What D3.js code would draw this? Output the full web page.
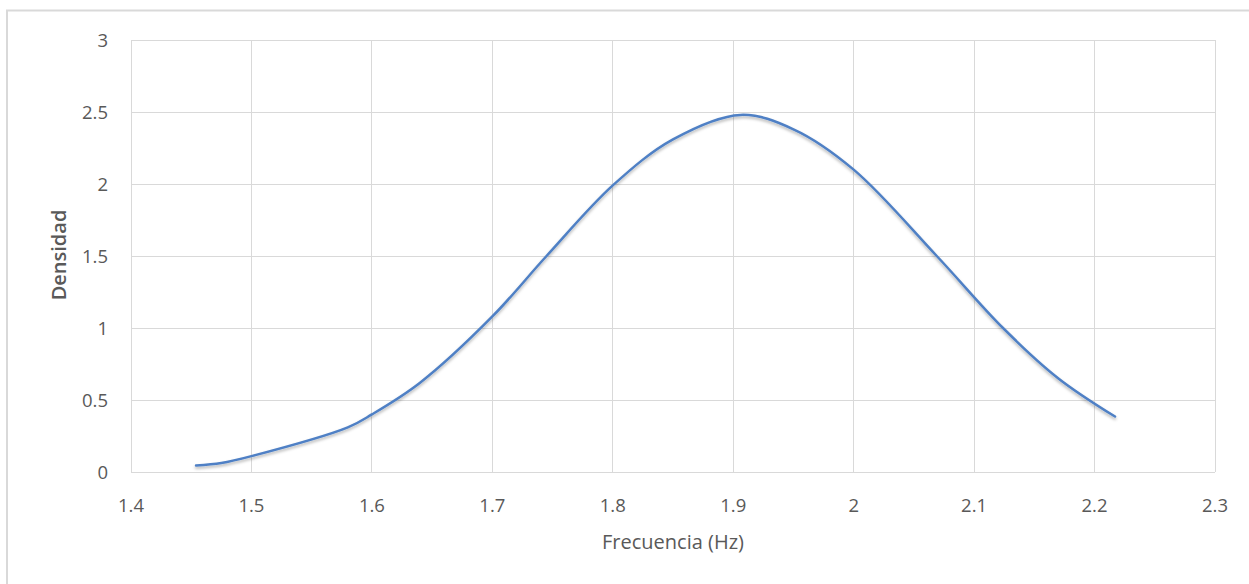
<!DOCTYPE html>
<html><head><meta charset="utf-8">
<script src="https://cdn.jsdelivr.net/npm/d3@7"></script>
<style>body{margin:0;background:#fff;} svg{display:block;}</style>
</head><body>
<svg id="chart" width="1249" height="584"></svg>
<script>
const freq = [1.454,1.475,1.5,1.58,1.6,1.64,1.7,1.745,1.8,1.85,1.906,1.95,2.0,2.069,2.124,2.17,2.217];
const dens = [0.045,0.062,0.11,0.31,0.40,0.62,1.08,1.5,1.99,2.31,2.48,2.38,2.1,1.5,1.0,0.65,0.385];
const xTicks = [1.4,1.5,1.6,1.7,1.8,1.9,2,2.1,2.2,2.3];
const yTicks = [0,0.5,1,1.5,2,2.5,3];
const xTitle = "Frecuencia (Hz)";
const yTitle = "Densidad";

const svg = d3.select("#chart");
const font = "'Open Sans', 'Noto Sans', sans-serif";
const L=131, R=1215, T=40, B=472;
const x = d3.scaleLinear().domain([1.4,2.3]).range([L,R]);
const y = d3.scaleLinear().domain([0,3]).range([B,T]);

// outer frame
svg.append("path").attr("d","M7,584 V10.5 H1249").attr("fill","none").attr("stroke","#d9d9d9").attr("stroke-width",2);

const defs = svg.append("defs");
const f = defs.append("filter").attr("id","sh").attr("x","-10%").attr("y","-10%").attr("width","120%").attr("height","130%");
f.append("feDropShadow").attr("dx",0).attr("dy",2).attr("stdDeviation",1.6).attr("flood-color","#000").attr("flood-opacity",0.3);

// grid
svg.append("g").selectAll("line").data(xTicks).join("line")
  .attr("x1",d=>x(d)).attr("x2",d=>x(d)).attr("y1",T).attr("y2",B)
  .attr("stroke","#d9d9d9").attr("stroke-width",1).attr("shape-rendering","crispEdges");
svg.append("g").selectAll("line").data(yTicks).join("line")
  .attr("y1",d=>y(d)).attr("y2",d=>y(d)).attr("x1",L).attr("x2",R)
  .attr("stroke","#d9d9d9").attr("stroke-width",1).attr("shape-rendering","crispEdges");

// tick labels
svg.append("g").selectAll("text").data(xTicks).join("text")
  .attr("x",d=>x(d)).attr("y",512).attr("text-anchor","middle")
  .attr("font-family",font).attr("font-size",18.5).attr("fill","#595959")
  .text(d=>String(d));
svg.append("g").selectAll("text").data(yTicks).join("text")
  .attr("x",108).attr("y",d=>y(d)+6.5).attr("text-anchor","end")
  .attr("font-family",font).attr("font-size",18.5).attr("fill","#595959")
  .text(d=>String(d));

// titles
svg.append("text").attr("x",673).attr("y",549).attr("text-anchor","middle")
  .attr("font-family",font).attr("font-size",20).attr("fill","#595959").text(xTitle);
svg.append("text").attr("transform","translate(66,255) rotate(-90)").attr("text-anchor","middle")
  .attr("font-family",font).attr("font-size",20).attr("font-weight","600").attr("fill","#595959").text(yTitle);

// line
const pts = freq.map((v,i)=>[v,dens[i]]);
const line = d3.line().x(d=>x(d[0])).y(d=>y(d[1])).curve(d3.curveCatmullRom.alpha(0.5));
svg.append("path").datum(pts).attr("d",line).attr("fill","none")
  .attr("stroke","#4f80c5").attr("stroke-width",2.5).attr("stroke-linecap","round")
  .attr("filter","url(#sh)");
</script>
</body></html>
